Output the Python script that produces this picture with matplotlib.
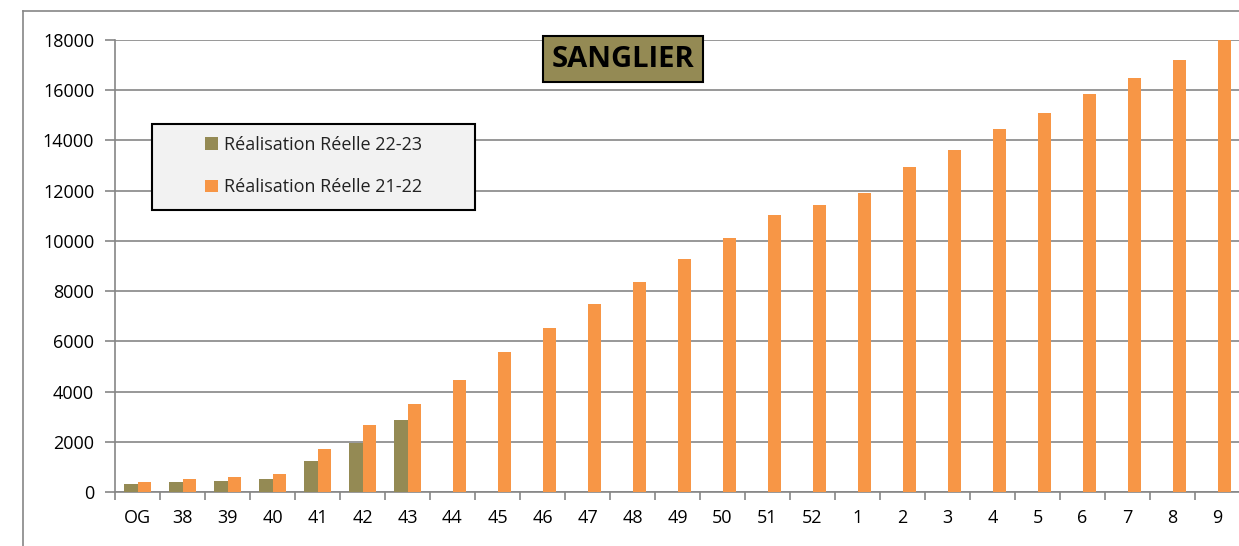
import numpy as np
import matplotlib.pyplot as plt
from matplotlib.patches import Rectangle
from matplotlib.lines import Line2D

# semaines (OG = ouverture générale)
semaines = ['OG', '38', '39', '40', '41', '42', '43', '44', '45', '46', '47', '48', '49',
            '50', '51', '52', '1', '2', '3', '4', '5', '6', '7', '8', '9']

# réalisations cumulées
reel_22_23 = [330, 390, 430, 500, 1220, 1965, 2855]
reel_21_22 = [385, 515, 600, 735, 1705, 2660, 3505, 4475, 5585, 6550, 7495, 8350, 9280,
              10100, 11040, 11440, 11910, 12925, 13600, 14460, 15110, 15860, 16470, 17190, 18000]

OLIVE = '#948A54'
ORANGE = '#F79646'
GRIS = '#868686'

plt.rcParams['font.family'] = ['Open Sans', 'DejaVu Sans']

W, H = 1239, 546
fig = plt.figure(figsize=(W / 100, H / 100), dpi=100)
ax = fig.add_axes([115 / W, 54 / H, 1125 / W, 452 / H])

x = np.arange(len(semaines))
w = 0.29
y1 = reel_22_23 + [np.nan] * (len(semaines) - len(reel_22_23))
ax.bar(x - w / 2, y1, width=w, color=OLIVE, label='Réalisation Réelle 22-23', zorder=3)
ax.bar(x + w / 2, reel_21_22, width=w, color=ORANGE, label='Réalisation Réelle 21-22', zorder=3)

ax.set_xlim(-0.5, len(semaines) - 0.5)
ax.set_ylim(0, 18000)
ax.set_yticks(np.arange(0, 18001, 2000))
ax.yaxis.grid(True, color=GRIS, linewidth=1.2, zorder=0)
ax.set_xticks(x)
ax.set_xticklabels(semaines)
ax.set_xticks(np.arange(-0.5, len(semaines), 1), minor=True)
ax.tick_params(axis='x', which='major', length=0, pad=12, labelsize=13, colors='black')
ax.tick_params(axis='x', which='minor', length=6, width=1.2, color=GRIS)
ax.tick_params(axis='y', length=7, width=1.2, color=GRIS, pad=8, labelsize=13)

for s in ['top', 'right']:
    ax.spines[s].set_visible(False)
ax.spines['left'].set_color(GRIS)
ax.spines['bottom'].set_color(GRIS)
ax.spines['left'].set_linewidth(1.2)
ax.spines['bottom'].set_linewidth(1.2)

# cadre de la légende (dessiné dans l'axe, sous la légende)
ax.add_patch(Rectangle((152 / W, 1 - 210 / H), 323 / W, 86 / H, transform=fig.transFigure,
                       facecolor='#F2F2F2', edgecolor='black', linewidth=1.5,
                       zorder=4, clip_on=False))
leg = ax.legend(loc='center', bbox_to_anchor=(313.5 / W, 1 - 166 / H),
                bbox_transform=fig.transFigure, frameon=False,
                fontsize=13, handlelength=0.7, handleheight=0.7,
                handletextpad=0.35, labelspacing=1.35, borderpad=0)
leg.set_zorder(5)
for t in leg.get_texts():
    t.set_color('#222222')

fig.text(623 / W, 1 - 59 / H, 'SANGLIER', ha='center', va='center',
         fontsize=21, fontweight='bold', color='black',
         bbox=dict(boxstyle='square,pad=0.28', facecolor=OLIVE, edgecolor='black', linewidth=1.5))

# cadre du graphique (coupé à droite et en bas)
fig.add_artist(Line2D([23 / W, 1.0], [1 - 11 / H, 1 - 11 / H], color=GRIS, linewidth=1.2))
fig.add_artist(Line2D([23 / W, 23 / W], [0, 1 - 11 / H], color=GRIS, linewidth=1.2))

fig.savefig('out.png', dpi=100)
